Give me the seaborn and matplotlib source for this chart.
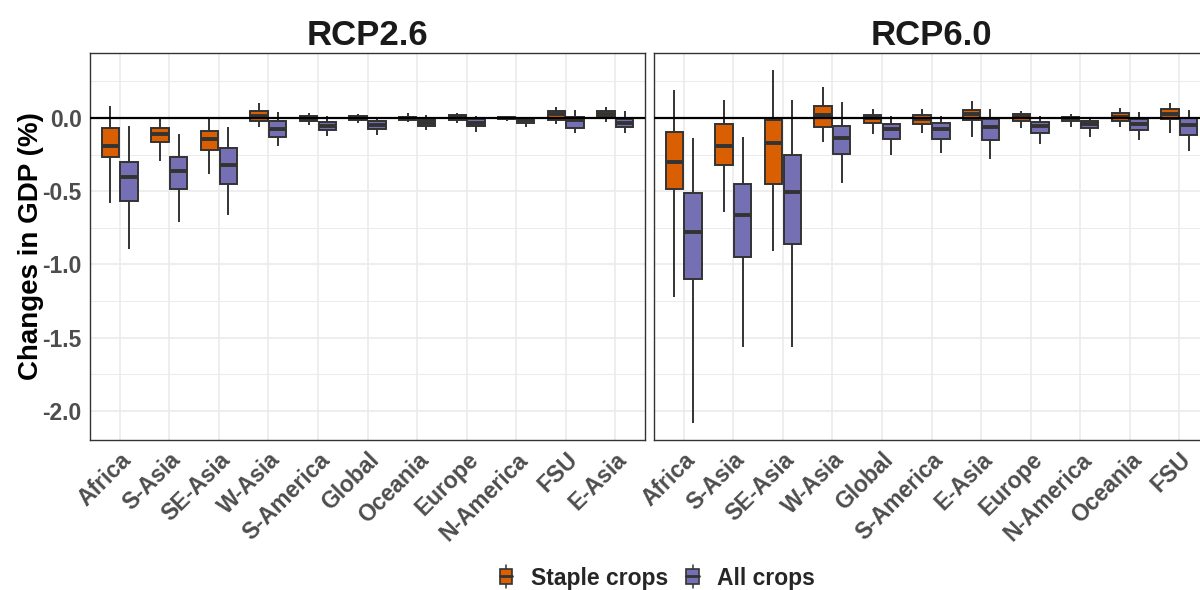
import numpy as np
import pandas as pd
import matplotlib
matplotlib.use("Agg")
import matplotlib.pyplot as plt
from matplotlib.legend_handler import HandlerBase
from matplotlib.patches import Rectangle, Patch
from matplotlib.lines import Line2D
from matplotlib.ticker import FixedLocator
import seaborn as sns

# Regions in plotting order for each scenario
rcp26_regions = ["Africa", "S-Asia", "SE-Asia", "W-Asia", "S-America", "Global",
                 "Oceania", "Europe", "N-America", "FSU", "E-Asia"]
rcp60_regions = ["Africa", "S-Asia", "SE-Asia", "W-Asia", "Global", "S-America",
                 "E-Asia", "Europe", "N-America", "Oceania", "FSU"]

crop_types = ["Staple crops", "All crops"]

# Five-number summaries per region: (whisker low, Q1, median, Q3, whisker high), GDP change in %
rcp26_staple = [
    (-0.58, -0.266, -0.193, -0.066, 0.082),
    (-0.296, -0.166, -0.109, -0.068, 0.0),
    (-0.384, -0.216, -0.143, -0.086, 0.009),
    (-0.059, -0.023, 0.012, 0.048, 0.105),
    (-0.050, -0.023, -0.005, 0.011, 0.036),
    (-0.036, -0.016, 0.0, 0.014, 0.030),
    (-0.030, -0.016, -0.002, 0.009, 0.036),
    (-0.034, -0.011, 0.007, 0.018, 0.032),
    (-0.020, -0.009, 0.002, 0.009, 0.016),
    (-0.039, -0.014, 0.027, 0.045, 0.077),
    (-0.027, 0.005, 0.030, 0.045, 0.073),
]
rcp26_all = [
    (-0.892, -0.564, -0.405, -0.298, -0.055),
    (-0.712, -0.482, -0.364, -0.266, -0.109),
    (-0.666, -0.448, -0.318, -0.205, -0.061),
    (-0.193, -0.127, -0.073, -0.023, 0.039),
    (-0.120, -0.080, -0.055, -0.027, 0.016),
    (-0.114, -0.073, -0.048, -0.023, 0.0),
    (-0.082, -0.057, -0.036, -0.014, 0.023),
    (-0.093, -0.057, -0.032, -0.009, 0.014),
    (-0.061, -0.036, -0.016, -0.002, 0.002),
    (-0.105, -0.066, -0.016, 0.005, 0.055),
    (-0.102, -0.061, -0.032, -0.005, 0.048),
]
rcp60_staple = [
    (-1.226, -0.487, -0.298, -0.098, 0.194),
    (-0.641, -0.321, -0.193, -0.038, 0.125),
    (-0.912, -0.448, -0.170, -0.016, 0.326),
    (-0.164, -0.061, 0.018, 0.085, 0.212),
    (-0.107, -0.032, 0.0, 0.021, 0.064),
    (-0.105, -0.043, -0.007, 0.021, 0.061),
    (-0.130, -0.011, 0.025, 0.057, 0.114),
    (-0.070, -0.020, 0.005, 0.027, 0.048),
    (-0.059, -0.018, -0.002, 0.009, 0.030),
    (-0.064, -0.023, 0.009, 0.032, 0.066),
    (-0.100, -0.009, 0.030, 0.062, 0.103),
]
rcp60_all = [
    (-2.082, -1.101, -0.776, -0.512, -0.134),
    (-1.563, -0.949, -0.662, -0.453, -0.127),
    (-1.563, -0.858, -0.503, -0.250, 0.125),
    (-0.443, -0.245, -0.136, -0.052, 0.112),
    (-0.250, -0.143, -0.077, -0.041, 0.014),
    (-0.236, -0.145, -0.075, -0.032, 0.016),
    (-0.282, -0.150, -0.061, -0.009, 0.059),
    (-0.177, -0.100, -0.055, -0.025, 0.011),
    (-0.130, -0.068, -0.041, -0.020, -0.005),
    (-0.148, -0.084, -0.039, -0.007, 0.039),
    (-0.223, -0.114, -0.045, 0.002, 0.057),
]

y_ticks = [0.0, -0.5, -1.0, -1.5, -2.0]
y_tick_labels = ["0.0", "-0.5", "-1.0", "-1.5", "-2.0"]

palette = {"Staple crops": "#D95F02", "All crops": "#7570B3"}
edge = "#333333"
grid_col = "#EBEBEB"
text_grey = "#4D4D4D"


def long_frame(regions, staple, allc):
    rows = []
    for reg, s5, a5 in zip(regions, staple, allc):
        for v in s5:
            rows.append((reg, "Staple crops", v))
        for v in a5:
            rows.append((reg, "All crops", v))
    return pd.DataFrame(rows, columns=["region", "crop", "value"])


sns.set_style("white")
plt.rcParams["font.family"] = ["Liberation Sans", "DejaVu Sans"]
plt.rcParams["font.weight"] = "bold"

fig = plt.figure(figsize=(12, 5.9), dpi=100)
W, H = 1200.0, 590.0
ax_bottom = 1 - 440 / H
ax_height = (440 - 53) / H
ax_w = 555 / W
ax1 = fig.add_axes([90 / W, ax_bottom, ax_w, ax_height])
ax2 = fig.add_axes([654 / W, ax_bottom, ax_w, ax_height])

panels = [
    (ax1, "RCP2.6", rcp26_regions, rcp26_staple, rcp26_all),
    (ax2, "RCP6.0", rcp60_regions, rcp60_staple, rcp60_all),
]

for ax, title, regions, staple, allc in panels:
    df = long_frame(regions, staple, allc)
    ax.set_axisbelow(True)
    sns.boxplot(
        data=df, x="region", y="value", hue="crop",
        order=regions, hue_order=crop_types, palette=palette, saturation=1,
        width=0.76, gap=0.08, whis=(0, 100), showfliers=False,
        showcaps=False, linewidth=1.4, linecolor=edge,
        medianprops={"linewidth": 2.8, "color": edge},
        legend=False, ax=ax,
    )
    ax.axhline(0, color="black", lw=1.6, zorder=10)
    ax.set_xlim(-0.6, len(regions) - 0.4)
    ax.set_ylim(-2.2, 0.444)
    ax.yaxis.set_major_locator(FixedLocator(y_ticks))
    ax.yaxis.set_minor_locator(FixedLocator([0.25, -0.25, -0.75, -1.25, -1.75]))
    ax.grid(which="major", axis="both", color=grid_col, lw=1.2)
    ax.grid(which="minor", axis="y", color=grid_col, lw=0.7)
    ax.set_xlabel("")
    ax.set_ylabel("")
    for sp in ax.spines.values():
        sp.set_color(edge)
        sp.set_linewidth(1.0)
    ax.tick_params(axis="both", which="major", length=4, width=1, color=edge,
                   labelsize=16.5, labelcolor=text_grey, pad=2)
    ax.tick_params(axis="y", which="minor", length=0)
    ax.set_xticks(range(len(regions)))
    ax.set_xticklabels(regions, rotation=45, ha="right", va="top",
                       rotation_mode="anchor", fontweight="bold")
    ax.set_title(title, fontsize=25, fontweight="bold", color="#1A1A1A", pad=6)

ax1.set_yticklabels(y_tick_labels, fontweight="bold")
ax1.set_ylabel("Changes in GDP (%)", fontsize=20, fontweight="bold", color="black")
ax1.yaxis.set_label_coords(-0.083, 0.5)
ax2.set_yticklabels([])
ax2.tick_params(axis="y", length=0)


class BoxKeyHandler(HandlerBase):
    def create_artists(self, legend, orig_handle, xdescent, ydescent,
                       width, height, fontsize, trans):
        fc = orig_handle.get_facecolor()
        x0, y0 = -xdescent, -ydescent
        cx = x0 + width / 2
        whisk = Line2D([cx, cx], [y0 - 0.25 * height, y0 + 1.25 * height],
                       color=edge, lw=1.1, transform=trans)
        box = Rectangle((x0, y0), width, height,
                        facecolor=fc, edgecolor=edge, lw=1.2, transform=trans)
        med = Line2D([x0, x0 + width], [y0 + 0.5 * height] * 2,
                     color=edge, lw=2.0, transform=trans)
        return [whisk, box, med]


handles = [Patch(facecolor=palette[c]) for c in crop_types]
fig.legend(handles, crop_types, handler_map={Patch: BoxKeyHandler()},
           loc="center", bbox_to_anchor=(657.5 / W, 1 - 578 / H), ncol=2,
           frameon=False, handlelength=0.55, handleheight=0.65,
           handletextpad=0.8, columnspacing=0.8,
           prop={"weight": "bold", "size": 16.5})

fig.savefig("out.png", dpi=100)
